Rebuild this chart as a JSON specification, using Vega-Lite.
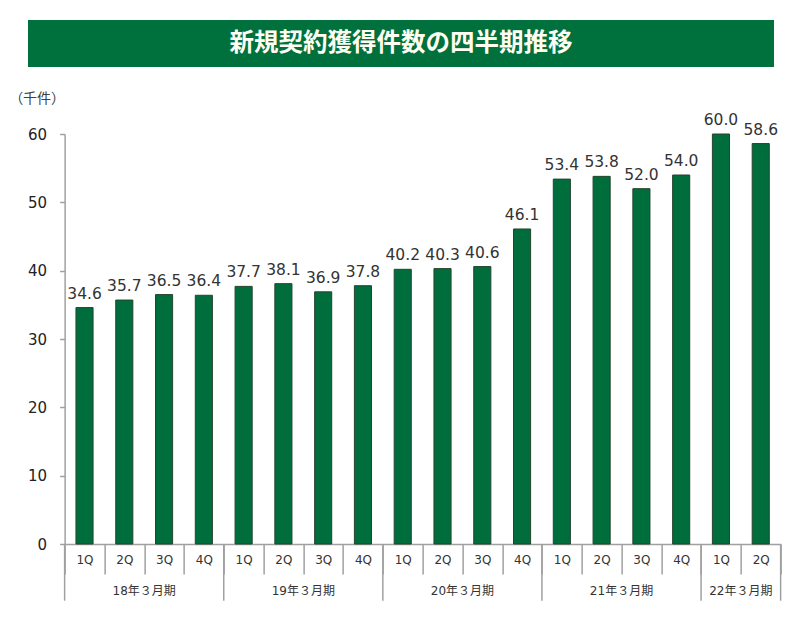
{
  "$schema": "https://vega.github.io/schema/vega-lite/v6.json",
  "padding": {"left": 8, "top": 20, "right": -13, "bottom": 0},
  "spacing": 24,
  "center": true,
  "config": {
    "view": {"stroke": null},
    "font": "DejaVu Sans"
  },
  "datasets": {
    "quarters": [
      {"period": "18-1Q", "value": 34.6},
      {"period": "18-2Q", "value": 35.7},
      {"period": "18-3Q", "value": 36.5},
      {"period": "18-4Q", "value": 36.4},
      {"period": "19-1Q", "value": 37.7},
      {"period": "19-2Q", "value": 38.1},
      {"period": "19-3Q", "value": 36.9},
      {"period": "19-4Q", "value": 37.8},
      {"period": "20-1Q", "value": 40.2},
      {"period": "20-2Q", "value": 40.3},
      {"period": "20-3Q", "value": 40.6},
      {"period": "20-4Q", "value": 46.1},
      {"period": "21-1Q", "value": 53.4},
      {"period": "21-2Q", "value": 53.8},
      {"period": "21-3Q", "value": 52.0},
      {"period": "21-4Q", "value": 54.0},
      {"period": "22-1Q", "value": 60.0},
      {"period": "22-2Q", "value": 58.6}
    ],
    "years": [
      {"period": "18-2Q", "fy": "18年３月期"},
      {"period": "19-2Q", "fy": "19年３月期"},
      {"period": "20-2Q", "fy": "20年３月期"},
      {"period": "21-2Q", "fy": "21年３月期"},
      {"period": "22-1Q", "fy": "22年３月期"}
    ],
    "yearStarts": [
      {"period": "18-1Q"},
      {"period": "19-1Q"},
      {"period": "20-1Q"},
      {"period": "21-1Q"},
      {"period": "22-1Q"}
    ],
    "yearEnd": [
      {"period": "22-2Q"}
    ]
  },
  "vconcat": [
    {
      "spacing": 43,
      "hconcat": [
        {
          "width": 746,
          "height": 47,
          "view": {"fill": "#00703c", "stroke": null},
          "data": {"values": [{"label": "新規契約獲得件数の四半期推移"}]},
          "mark": {
            "type": "text",
            "font": "Noto Sans CJK JP",
            "fontWeight": "bold",
            "fontSize": 24.5,
            "color": "#fffef2",
            "baseline": "middle"
          },
          "encoding": {
            "text": {"field": "label"}
          }
        },
        {
          "width": 1,
          "height": 1,
          "data": {"values": []},
          "mark": "point"
        }
      ]
    },
    {
      "width": 716,
      "height": 410,
      "layer": [
        {
          "data": {"name": "quarters"},
          "mark": {
            "type": "bar",
            "width": {"band": 0.43},
            "fill": "#006d3c",
            "stroke": "#24452c",
            "strokeWidth": 1
          },
          "encoding": {
            "x": {
              "field": "period",
              "type": "nominal",
              "sort": null,
              "scale": {
                "domain": ["18-1Q", "18-2Q", "18-3Q", "18-4Q", "19-1Q", "19-2Q", "19-3Q", "19-4Q", "20-1Q", "20-2Q", "20-3Q", "20-4Q", "21-1Q", "21-2Q", "21-3Q", "21-4Q", "22-1Q", "22-2Q"],
                "paddingInner": 0,
                "paddingOuter": 0
              },
              "axis": {
                "title": null,
                "labelAngle": 0,
                "labelExpr": "slice(datum.label, 3)",
                "labelFontSize": 12,
                "labelColor": "#333333",
                "labelBaseline": "middle",
                "labelPadding": -15,
                "tickBand": "extent",
                "tickSize": 30,
                "tickColor": "#a0a0a0",
                "tickWidth": 1.5,
                "domainColor": "#a0a0a0",
                "domainWidth": 1.5
              }
            },
            "y": {
              "field": "value",
              "type": "quantitative",
              "scale": {"domain": [0, 60], "nice": false},
              "axis": {
                "title": "（千件）",
                "titleAngle": 0,
                "titleAlign": "left",
                "titleBaseline": "middle",
                "titleX": -56,
                "titleY": -36,
                "titleFont": "Noto Sans CJK JP",
                "titleFontWeight": "normal",
                "titleFontSize": 14,
                "titleColor": "#404040",
                "values": [0, 10, 20, 30, 40, 50, 60],
                "grid": false,
                "labelFontSize": 15,
                "labelColor": "#222222",
                "labelPadding": 13,
                "tickSize": 5,
                "tickColor": "#a0a0a0",
                "tickWidth": 1.5,
                "domainColor": "#a0a0a0",
                "domainWidth": 1.5
              }
            }
          }
        },
        {
          "data": {"name": "quarters"},
          "mark": {
            "type": "text",
            "fontSize": 15.5,
            "color": "#333333",
            "baseline": "alphabetic",
            "dy": -9
          },
          "encoding": {
            "x": {"field": "period", "type": "nominal", "sort": null},
            "y": {"field": "value", "type": "quantitative"},
            "text": {"field": "value", "type": "quantitative", "format": ".1f"}
          }
        },
        {
          "data": {"name": "years"},
          "mark": {
            "type": "text",
            "font": "DejaVu Sans, Noto Sans CJK JP",
            "fontSize": 12,
            "color": "#333333",
            "baseline": "middle"
          },
          "encoding": {
            "x": {"field": "period", "type": "nominal", "sort": null, "bandPosition": 1},
            "y": {"datum": -6.83, "type": "quantitative"},
            "text": {"field": "fy"}
          }
        },
        {
          "data": {"name": "yearStarts"},
          "mark": {"type": "rule", "color": "#a0a0a0", "strokeWidth": 1.5},
          "encoding": {
            "x": {"field": "period", "type": "nominal", "sort": null, "bandPosition": 0},
            "y": {"datum": 0, "type": "quantitative"},
            "y2": {"datum": -8.3}
          }
        },
        {
          "data": {"name": "yearEnd"},
          "mark": {"type": "rule", "color": "#a0a0a0", "strokeWidth": 1.5},
          "encoding": {
            "x": {"field": "period", "type": "nominal", "sort": null, "bandPosition": 1},
            "y": {"datum": 0, "type": "quantitative"},
            "y2": {"datum": -8.3}
          }
        }
      ]
    }
  ]
}
